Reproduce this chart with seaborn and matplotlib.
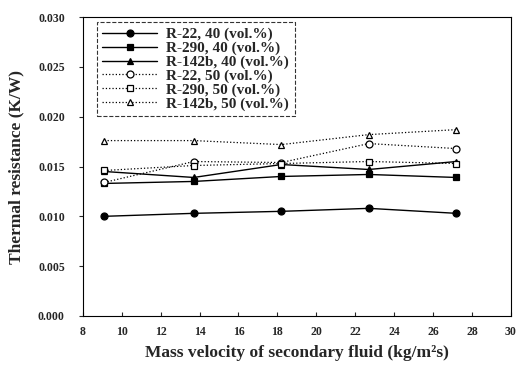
import numpy as np
import pandas as pd
import matplotlib
matplotlib.use("Agg")
import matplotlib.pyplot as plt
import seaborn as sns

# DATA
mass_velocity = [9.1, 13.7, 18.2, 22.7, 27.2]
r22_40 = [0.0100, 0.0103, 0.0105, 0.0108, 0.0103]
r290_40 = [0.0133, 0.0135, 0.0140, 0.0142, 0.0139]
r142b_40 = [0.0145, 0.0139, 0.0152, 0.0147, 0.0155]
r22_50 = [0.0134, 0.0155, 0.0154, 0.0173, 0.0168]
r290_50 = [0.0146, 0.0151, 0.0153, 0.0155, 0.0153]
r142b_50 = [0.0176, 0.0176, 0.0172, 0.0182, 0.0187]

labels = ["R-22, 40 (vol.%)", "R-290, 40 (vol.%)", "R-142b, 40 (vol.%)",
          "R-22, 50 (vol.%)", "R-290, 50 (vol.%)", "R-142b, 50 (vol.%)"]
series = [r22_40, r290_40, r142b_40, r22_50, r290_50, r142b_50]
markers = ["o", "s", "^", "o", "s", "^"]
filled = [True, True, True, False, False, False]

sns.set_style("ticks")
plt.rcParams["font.family"] = ["Liberation Serif", "DejaVu Serif"]
plt.rcParams["font.weight"] = "bold"

fig = plt.figure(figsize=(5.31, 3.70), dpi=100)
ax = fig.add_axes([0.156, 0.146, 0.806, 0.808])

for lab, vals, mk, fl in zip(labels, series, markers, filled):
    sns.lineplot(x=mass_velocity, y=vals, ax=ax, color="black",
                 marker=mk, markersize=5,
                 markerfacecolor="black" if fl else "white",
                 markeredgecolor="black", markeredgewidth=0.9,
                 linestyle="-" if fl else ":", linewidth=1.0 if fl else 0.9,
                 label=lab)

ax.set_xlim(8, 30)
ax.set_ylim(0, 0.030)
ax.set_xticks(np.arange(8, 31, 2))
ax.set_yticks(np.arange(0, 0.0301, 0.005))
ax.set_yticklabels([f"{v:.3f}" for v in np.arange(0, 0.0301, 0.005)])
ax.tick_params(axis="x", direction="in", length=3, labelsize=8.5, pad=7)
ax.tick_params(axis="y", direction="out", length=3, labelsize=8.5, pad=10)
for lbl in ax.get_xticklabels() + ax.get_yticklabels():
    lbl.set_fontweight("bold")
for sp in ax.spines.values():
    sp.set_linewidth(0.8)
    sp.set_color("black")

ax.set_xlabel("Mass velocity of secondary fluid (kg/m\u00b2s)",
              fontsize=12.5, fontweight="bold", labelpad=5)
ax.set_ylabel("Thermal resistance (K/W)", fontsize=12.5, fontweight="bold", labelpad=10)

leg = ax.legend(loc="upper left", bbox_to_anchor=(0.033, 0.983), borderaxespad=0,
                frameon=True, fancybox=False, edgecolor="black", fontsize=11,
                handlelength=3.6, labelspacing=0.0, borderpad=0.35,
                handletextpad=0.6)
leg.get_frame().set_linewidth(0.8)
leg.get_frame().set_linestyle("--")
for t in leg.get_texts():
    t.set_fontweight("bold")

plt.savefig("out.png", dpi=100)
